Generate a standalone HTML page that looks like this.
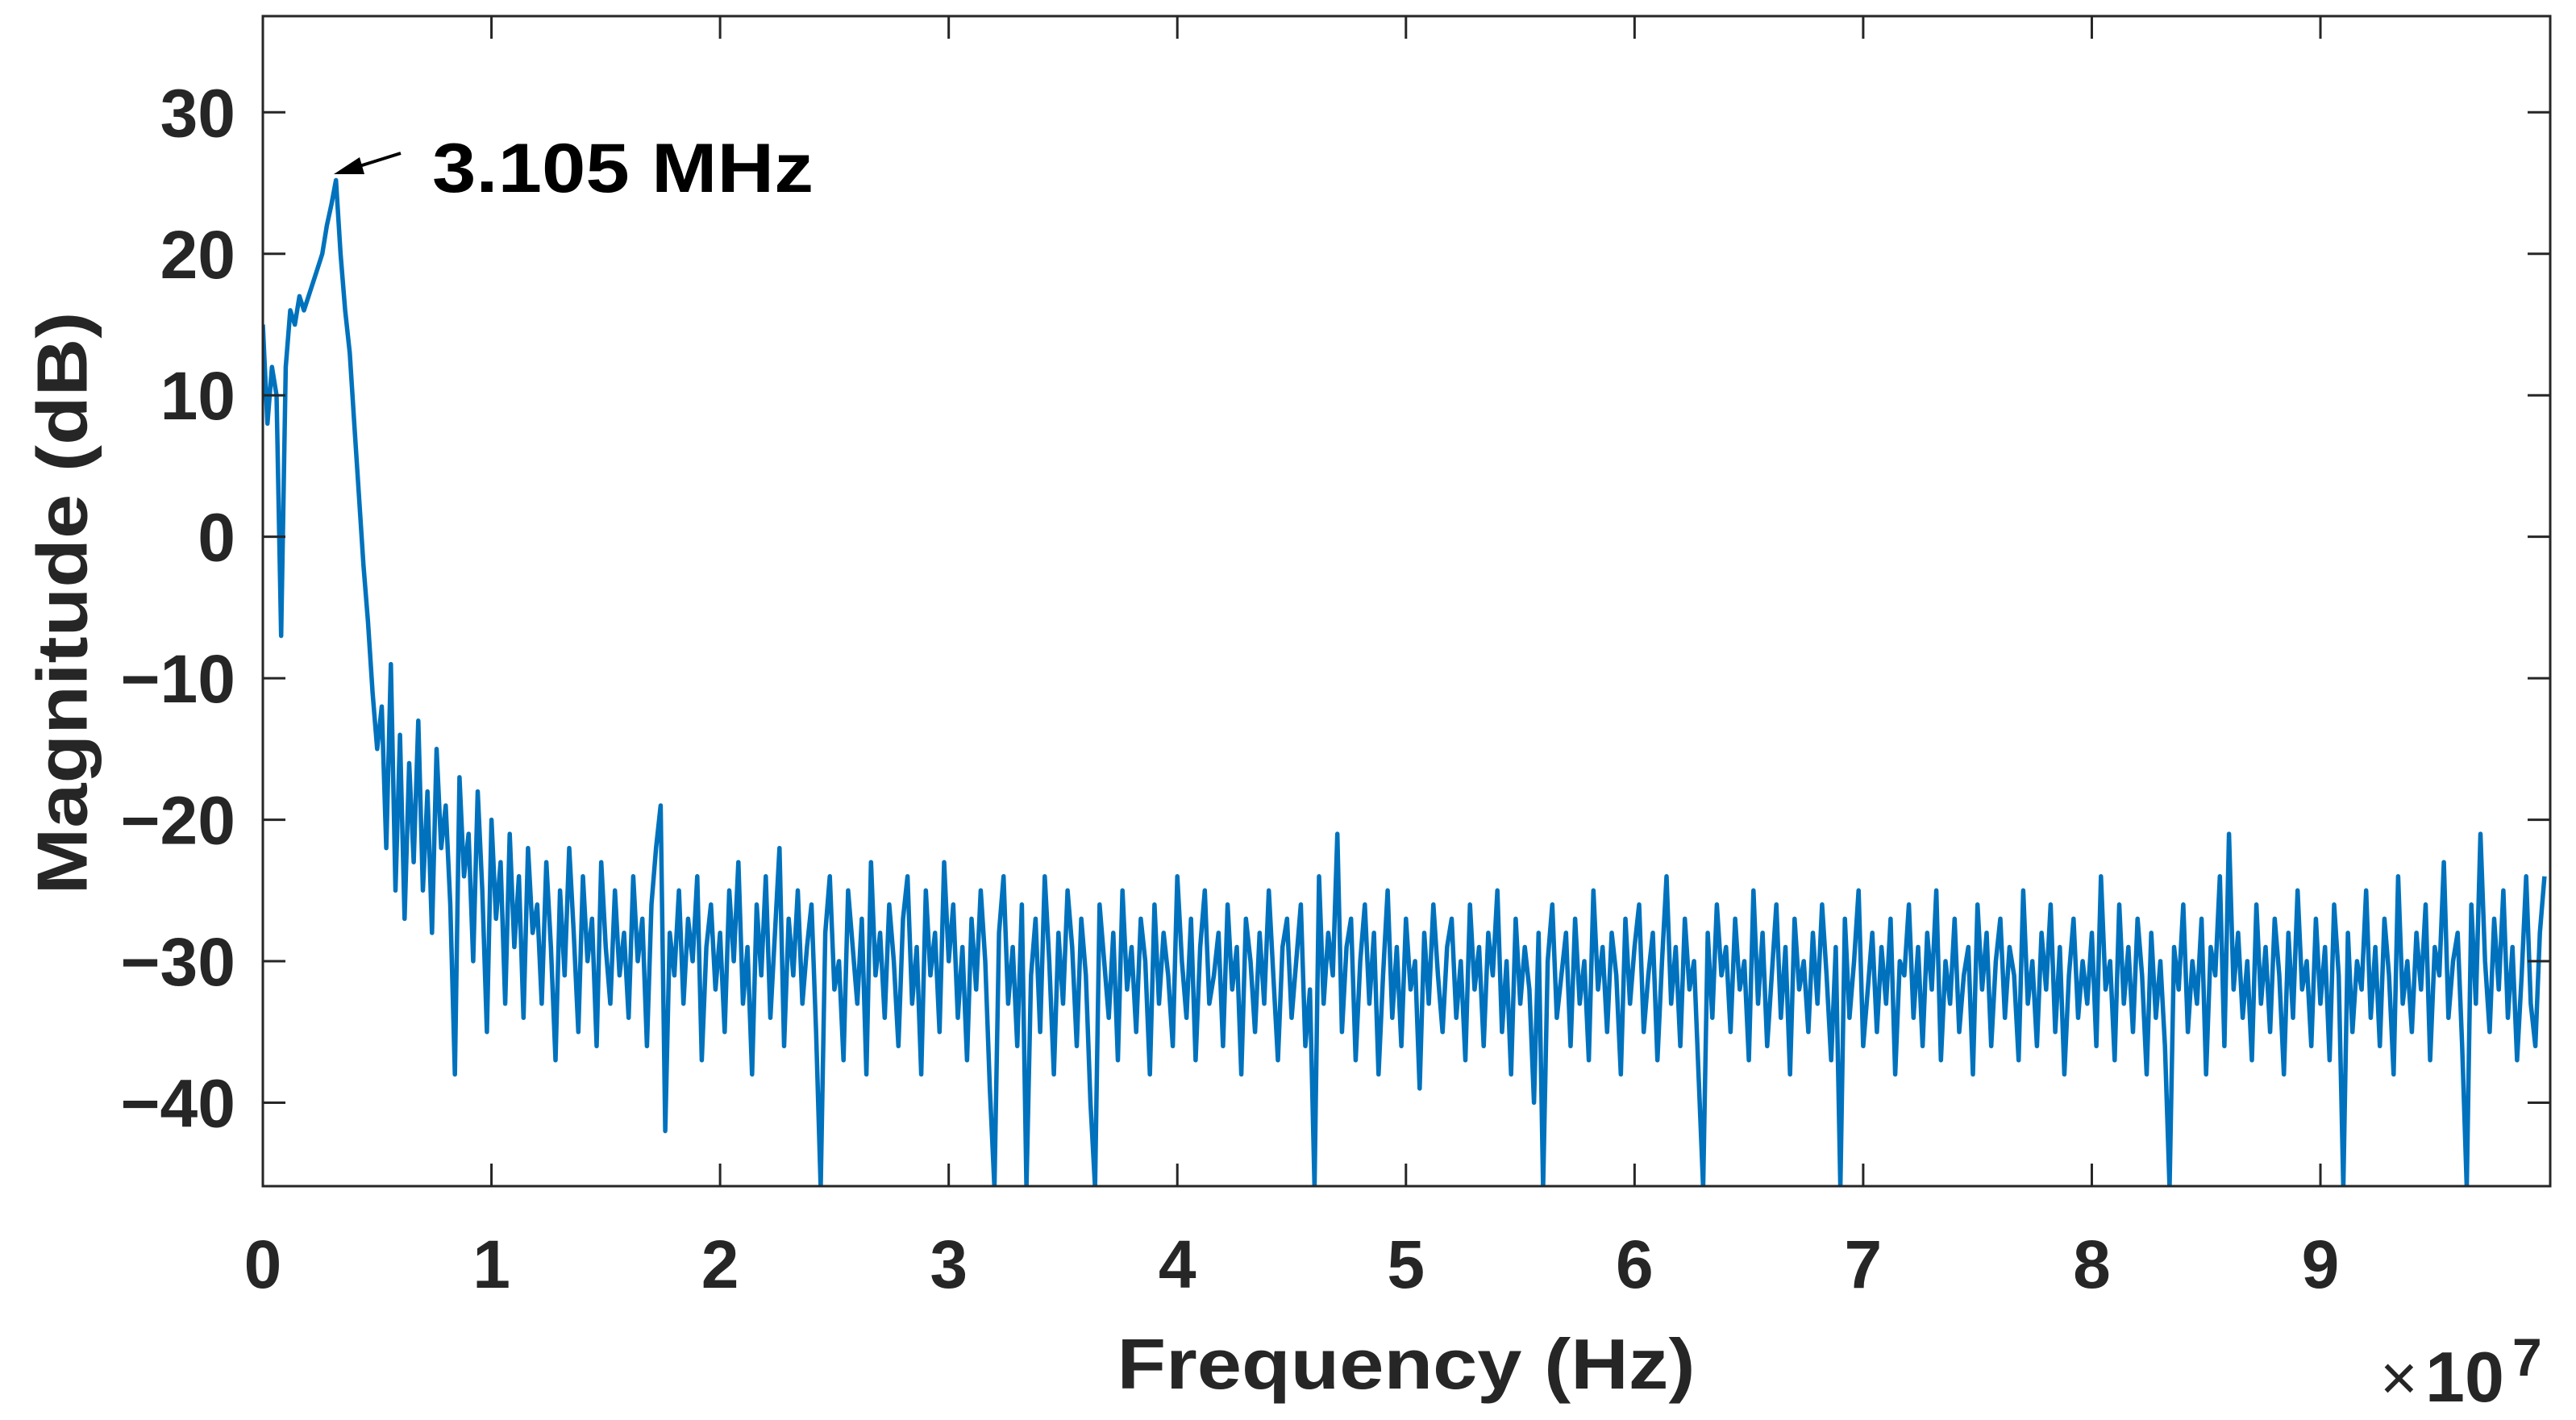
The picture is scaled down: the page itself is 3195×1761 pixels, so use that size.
<!DOCTYPE html>
<html><head><meta charset="utf-8"><style>html,body{margin:0;padding:0;background:#fff}svg{display:block}</style></head>
<body>
<svg id="chart" width="3195" height="1761" viewBox="0 0 3195 1761" xmlns="http://www.w3.org/2000/svg" font-family="'Liberation Sans', Arial, sans-serif">
<rect width="3195" height="1761" fill="#fff"/>
<g id="plot"></g>
<g id="axes"></g>
<text x="536" y="238" font-size="86" font-weight="bold" fill="#000" textLength="473" lengthAdjust="spacingAndGlyphs">3.105 MHz</text>
<g>
<line x1="497" y1="190" x2="430" y2="211" stroke="#000" stroke-width="4"/>
<polygon points="414,216 446,195 452,216" fill="#000"/>
</g>
<text x="77" y="748" font-size="88" font-weight="bold" fill="#262626" text-anchor="middle" transform="rotate(-90 77 748)" textLength="723" lengthAdjust="spacingAndGlyphs" dominant-baseline="central">Magnitude (dB)</text>
<text x="1744" y="1722" font-size="88" font-weight="bold" fill="#262626" text-anchor="middle" textLength="717" lengthAdjust="spacingAndGlyphs">Frequency (Hz)</text>
<g>
<text x="2952" y="1736" font-size="80" fill="#262626">×</text>
<text x="3008" y="1738" font-size="88" font-weight="bold" fill="#262626">10</text>
<text x="3116" y="1706" font-size="66" font-weight="bold" fill="#262626">7</text>
</g>
</svg>
<script>
const freqStepMHz = 0.2;
const magnitudeDb = [
15,8,12,10,-7,12,16,15,17,16,17,18,19,20,22,23.5,25.2,20,16,13,8,3,-2,-6,-11,-15,-12,-22,-9,-25,
-14,-27,-16,-23,-13,-25,-18,-28,-15,-22,-19,-26,-38,-17,-24,-21,-30,-18,-25,-35,-20,-27,-23,-33,-21,-29,-24,-34,-22,-28,
-26,-33,-23,-29,-37,-25,-31,-22,-28,-35,-24,-30,-27,-36,-23,-29,-33,-25,-31,-28,
-34,-24,-30,-27,-36,-26,-22,-19,-42,-28,-31,-25,-33,-27,-30,-24,-37,-29,-26,-32,
-28,-35,-25,-30,-23,-33,-29,-38,-26,-31,-24,-34,-28,-22,-36,-27,-31,-25,-33,-29,
-26,-35,-46,-28,-24,-32,-30,-37,-25,-29,-33,-27,-38,-23,-31,-28,-34,-26,-30,-36,
-27,-24,-33,-29,-38,-25,-31,-28,-35,-23,-30,-26,-34,-29,-37,-27,-32,-25,-30,-39,
-46,-28,-24,-33,-29,-36,-26,-46,-31,-27,-35,-24,-30,-38,-28,-33,-25,-29,-36,-27,
-31,-40,-46,-26,-30,-34,-28,-37,-25,-32,-29,-35,-27,-30,-38,-26,-33,-28,-31,-36,
-24,-30,-34,-27,-37,-29,-25,-33,-31,-28,-36,-26,-32,-29,-38,-27,-30,-35,-28,-33,
-25,-31,-37,-29,-27,-34,-30,-26,-36,-32,-46,-24,-33,-28,-31,-21,-35,-29,-27,-37,
-30,-26,-33,-28,-38,-31,-25,-34,-29,-36,-27,-32,-30,-39,-28,-33,-26,-31,-35,-29,
-27,-34,-30,-37,-26,-32,-29,-36,-28,-31,-25,-35,-30,-38,-27,-33,-29,-32,-40,-28,
-46,-30,-26,-34,-31,-28,-36,-27,-33,-30,-37,-25,-32,-29,-35,-28,-31,-38,-27,-33,
-29,-26,-35,-31,-28,-37,-30,-24,-33,-29,-36,-27,-32,-30,-38,-46,-28,-34,-26,-31,
-29,-35,-27,-32,-30,-37,-25,-33,-28,-36,-31,-26,-34,-29,-38,-27,-32,-30,-35,-28,
-33,-26,-31,-37,-29,-46,-27,-34,-30,-25,-36,-32,-28,-35,-29,-33,-27,-38,-30,-31,
-26,-34,-29,-36,-28,-32,-25,-37,-30,-33,-27,-35,-31,-29,-38,-26,-32,-28,-36,-30,
-27,-34,-29,-31,-37,-25,-33,-30,-36,-28,-32,-26,-35,-29,-38,-31,-27,-34,-30,-33,
-28,-36,-24,-32,-30,-37,-26,-33,-29,-35,-27,-31,-38,-28,-34,-30,-36,-46,-29,-32,
-26,-35,-30,-33,-27,-38,-29,-31,-24,-36,-21,-32,-28,-34,-30,-37,-26,-33,-29,-35,
-27,-31,-38,-28,-34,-25,-32,-30,-36,-27,-33,-29,-37,-26,-31,-46,-28,-35,-30,-32,
-25,-34,-29,-36,-27,-31,-38,-24,-33,-30,-35,-28,-32,-26,-37,-29,-31,-23,-34,-30,
-28,-36,-46,-26,-33,-21,-30,-35,-27,-32,-25,-34,-29,-37,-31,-24,-33,-36,-28,-24
];
const xTickValues = [0,1,2,3,4,5,6,7,8,9];
const xTickLabels = ["0","1","2","3","4","5","6","7","8","9"];
const yTickValues = [-40,-30,-20,-10,0,10,20,30];
const yTickLabels = ["\u221240","\u221230","\u221220","\u221210","0","10","20","30"];

const NS = "http://www.w3.org/2000/svg";
const L = 326, R = 3163, T = 20, B = 1471;
const X_MIN = 0, X_MAX = 10.005, Y_MIN = -45.9, Y_MAX = 36.8;
function xs(v){ return L + (v - X_MIN) / (X_MAX - X_MIN) * (R - L); }
function ys(v){ return B - (v - Y_MIN) / (Y_MAX - Y_MIN) * (B - T); }
function mk(tag, attrs, parent){ const e = document.createElementNS(NS, tag); for (const k in attrs) e.setAttribute(k, attrs[k]); parent.appendChild(e); return e; }

const plot = document.getElementById('plot');
const axes = document.getElementById('axes');
const defs = mk('defs', {}, plot);
const cp = mk('clipPath', {id:'clip'}, defs);
mk('rect', {x:L, y:T, width:R-L, height:B-T}, cp);

let d = '';
magnitudeDb.forEach((v, i) => {
  const f = i * freqStepMHz / 10;
  d += (i ? 'L' : 'M') + xs(f).toFixed(1) + ' ' + ys(v).toFixed(1);
});
const line = mk('path', {d:d, fill:'none', stroke:'#0072BD', 'stroke-width':5.5, 'stroke-linejoin':'round', 'clip-path':'url(#clip)'}, plot);



const box = mk('rect', {x:L, y:T, width:R-L, height:B-T, fill:'none', stroke:'#262626', 'stroke-width':3}, axes);



const TL = 28;
xTickValues.forEach((v, i) => {
  const x = xs(v);
  mk('line', {x1:x, y1:B, x2:x, y2:B-TL, stroke:'#262626', 'stroke-width':3}, axes);
  mk('line', {x1:x, y1:T, x2:x, y2:T+TL, stroke:'#262626', 'stroke-width':3}, axes);
  const t = mk('text', {x:x, y:1597, 'font-size':84, 'font-weight':'bold', fill:'#262626', 'text-anchor':'middle'}, axes);
  t.textContent = xTickLabels[i];
  
  
});
yTickValues.forEach((v, i) => {
  const y = ys(v);
  mk('line', {x1:L, y1:y, x2:L+TL, y2:y, stroke:'#262626', 'stroke-width':3}, axes);
  mk('line', {x1:R, y1:y, x2:R-TL, y2:y, stroke:'#262626', 'stroke-width':3}, axes);
  const t = mk('text', {x:292, y:y+30, 'font-size':84, 'font-weight':'bold', fill:'#262626', 'text-anchor':'end'}, axes);
  t.textContent = yTickLabels[i];
  
  
});
</script>
</body></html>
